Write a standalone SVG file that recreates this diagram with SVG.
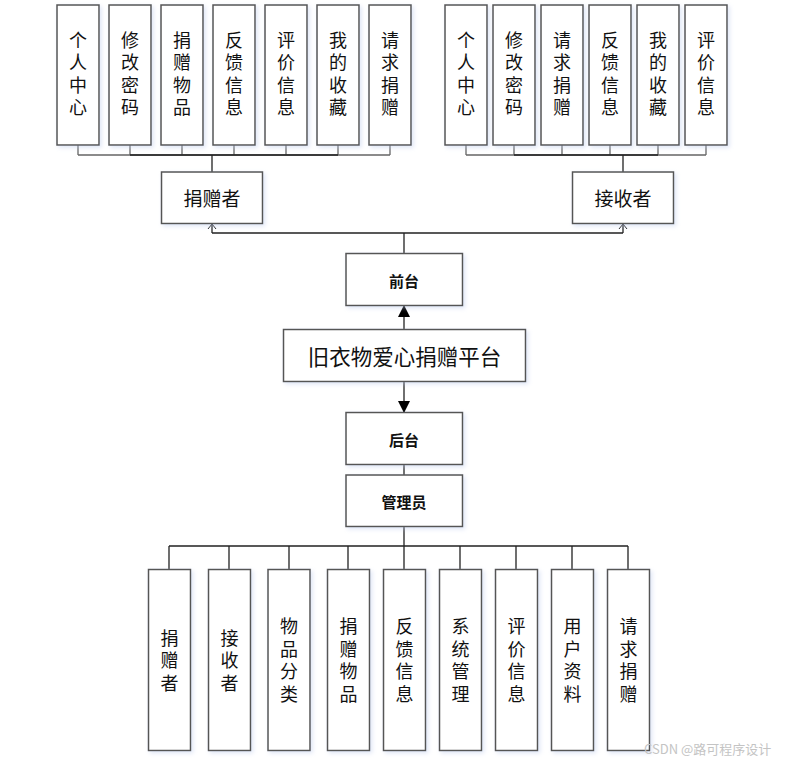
<svg xmlns="http://www.w3.org/2000/svg" width="792" height="761" viewBox="0 0 792 761">
<style>
.box{fill:#fff;stroke:#555;stroke-width:1.5;filter:url(#sh)}
.t{font-family:"Noto Sans CJK SC","Noto Sans",sans-serif;fill:#111;text-anchor:middle;dominant-baseline:central}
.v{font-size:18px;writing-mode:vertical-rl;letter-spacing:4.5px}
.b{font-size:15px;font-weight:bold}
.line{fill:none;stroke:#222;stroke-width:1.3}
.lg{fill:none;stroke:#666;stroke-width:1.3}
</style>
<defs>
<filter id="sh" x="-20%" y="-20%" width="150%" height="150%">
<feDropShadow dx="2" dy="2" stdDeviation="2" flood-color="#b8c8ea" flood-opacity="0.45"/>
</filter>
<marker id="open" markerWidth="10" markerHeight="10" refX="5" refY="5" orient="auto" markerUnits="userSpaceOnUse" viewBox="0 0 10 10">
<path d="M0,1 L5,5 L0,9" fill="none" stroke="#222" stroke-width="1"/>
</marker>
<marker id="fill" markerWidth="12" markerHeight="12" refX="11" refY="6" orient="auto" markerUnits="userSpaceOnUse" viewBox="0 0 12 12">
<path d="M0,0 L12,6 L0,12 Z" fill="#000"/>
</marker>
</defs>

<g id="connectors">
<path class="lg" d="M78,145 V155 M130,145 V155 M182,145 V155 M234,145 V155 M286,145 V155 M338,145 V155 M390,145 V155 M78,155 H390"/>
<path class="line" d="M130,155 H338 M212,155 V172"/>
<path class="lg" d="M466,145 V155 M514,145 V155 M562,145 V155 M610,145 V155 M658,145 V155 M706,145 V155 M466,155 H706"/>
<path class="line" d="M514,155 H658 M623,155 V172"/>
<path class="line" d="M212,233 H623 M404,233 V253"/>
<path class="line" d="M212,233 V224" marker-end="url(#open)"/>
<path class="line" d="M623,233 V224" marker-end="url(#open)"/>
<path class="line" d="M404,329 V306" marker-end="url(#fill)" stroke-width="1.6"/>
<path class="line" d="M404,381 V412" marker-end="url(#fill)" stroke-width="1.6"/>
<path class="line" d="M404,464 V475"/>
<path class="line" d="M404,527 V546 M169,546 H628 M169,546 V569 M229,546 V569 M289,546 V569 M348,546 V569 M404,546 V569 M460,546 V569 M516,546 V569 M572,546 V569 M628,546 V569"/>
</g>

<g id="d1"><rect class="box" x="57" y="5" width="42" height="140"/><text class="t v" x="78" y="76">个人中心</text></g>
<g id="d2"><rect class="box" x="109" y="5" width="42" height="140"/><text class="t v" x="130" y="76">修改密码</text></g>
<g id="d3"><rect class="box" x="161" y="5" width="42" height="140"/><text class="t v" x="182" y="76">捐赠物品</text></g>
<g id="d4"><rect class="box" x="213" y="5" width="42" height="140"/><text class="t v" x="234" y="76">反馈信息</text></g>
<g id="d5"><rect class="box" x="265" y="5" width="42" height="140"/><text class="t v" x="286" y="76">评价信息</text></g>
<g id="d6"><rect class="box" x="317" y="5" width="42" height="140"/><text class="t v" x="338" y="76">我的收藏</text></g>
<g id="d7"><rect class="box" x="369" y="5" width="42" height="140"/><text class="t v" x="390" y="76">请求捐赠</text></g>

<g id="r1"><rect class="box" x="445" y="5" width="42" height="140"/><text class="t v" x="466" y="76">个人中心</text></g>
<g id="r2"><rect class="box" x="493" y="5" width="42" height="140"/><text class="t v" x="514" y="76">修改密码</text></g>
<g id="r3"><rect class="box" x="541" y="5" width="42" height="140"/><text class="t v" x="562" y="76">请求捐赠</text></g>
<g id="r4"><rect class="box" x="589" y="5" width="42" height="140"/><text class="t v" x="610" y="76">反馈信息</text></g>
<g id="r5"><rect class="box" x="637" y="5" width="42" height="140"/><text class="t v" x="658" y="76">我的收藏</text></g>
<g id="r6"><rect class="box" x="685" y="5" width="42" height="140"/><text class="t v" x="706" y="76">评价信息</text></g>

<g id="donor"><rect class="box" x="161.5" y="172" width="101" height="51.5"/><text class="t" x="212" y="197.5" font-size="19">捐赠者</text></g>
<g id="receiver"><rect class="box" x="572.5" y="172" width="101" height="51.5"/><text class="t" x="623" y="197.5" font-size="19">接收者</text></g>

<g id="front"><rect class="box" x="346" y="253.5" width="116.5" height="52"/><text class="t b" x="404" y="280">前台</text></g>
<g id="platform"><rect class="box" x="283.5" y="329.5" width="242" height="52"/><text class="t" x="404.5" y="355.5" font-size="21.5">旧衣物爱心捐赠平台</text></g>
<g id="back"><rect class="box" x="346" y="412.5" width="116.5" height="52"/><text class="t b" x="404" y="439">后台</text></g>
<g id="admin"><rect class="box" x="346" y="475" width="116.5" height="51.5"/><text class="t b" x="404" y="501">管理员</text></g>

<g id="a1"><rect class="box" x="148.5" y="569.5" width="42" height="181"/><text class="t v" x="169.5" y="662.5">捐赠者</text></g>
<g id="a2"><rect class="box" x="208.5" y="569.5" width="42" height="181"/><text class="t v" x="229.5" y="662.5">接收者</text></g>
<g id="a3"><rect class="box" x="268" y="569.5" width="42" height="181"/><text class="t v" x="289" y="662.5">物品分类</text></g>
<g id="a4"><rect class="box" x="327.5" y="569.5" width="42" height="181"/><text class="t v" x="348.5" y="662.5">捐赠物品</text></g>
<g id="a5"><rect class="box" x="383.5" y="569.5" width="42" height="181"/><text class="t v" x="404.5" y="662.5">反馈信息</text></g>
<g id="a6"><rect class="box" x="439.5" y="569.5" width="42" height="181"/><text class="t v" x="460.5" y="662.5">系统管理</text></g>
<g id="a7"><rect class="box" x="495.5" y="569.5" width="42" height="181"/><text class="t v" x="516.5" y="662.5">评价信息</text></g>
<g id="a8"><rect class="box" x="551.5" y="569.5" width="42" height="181"/><text class="t v" x="572.5" y="662.5">用户资料</text></g>
<g id="a9"><rect class="box" x="607.5" y="569.5" width="42" height="181"/><text class="t v" x="628.5" y="662.5">请求捐赠</text></g>

<text x="644" y="748" font-family="'Noto Sans CJK SC','Noto Sans',sans-serif" font-size="13" fill="#c4c4c4" dominant-baseline="central">CSDN @路可程序设计</text>
</svg>
